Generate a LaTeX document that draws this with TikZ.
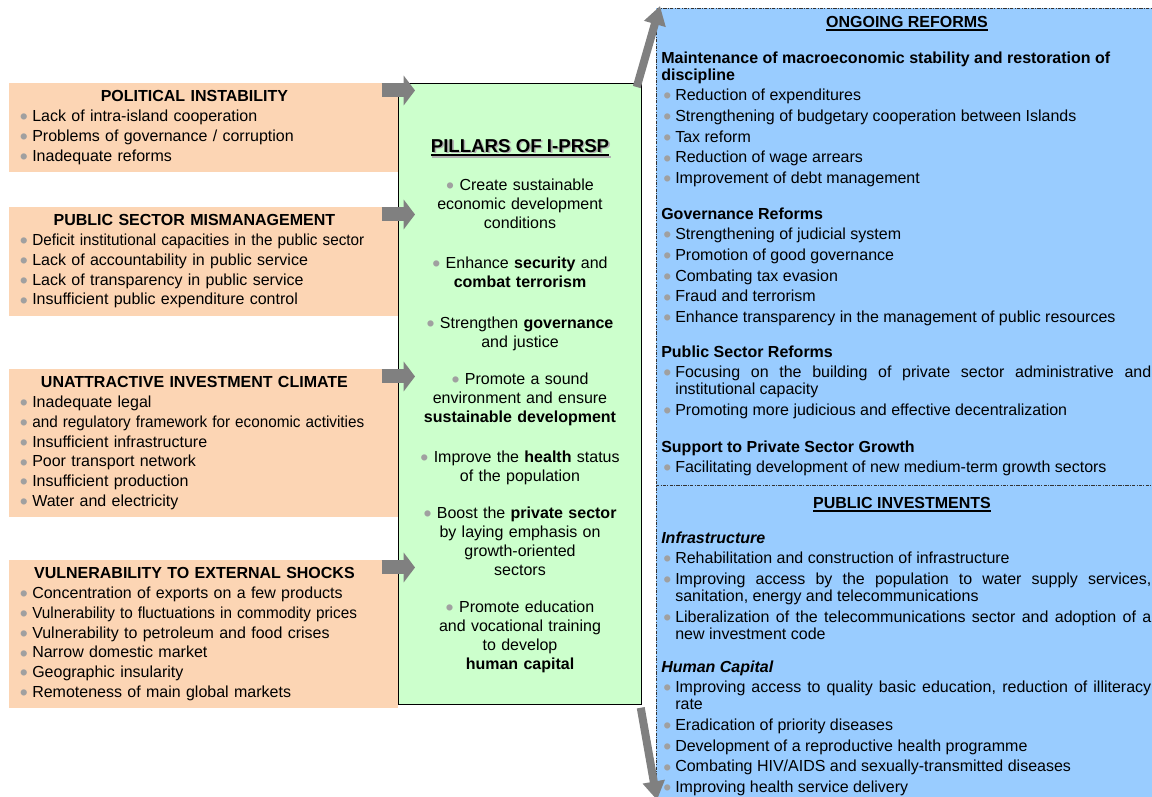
\documentclass[tikz,border=0pt]{standalone}
\usepackage{fontspec}
\setmainfont{Liberation Sans}
\usepackage{xcolor}
\usepackage{graphicx}
\usepackage{tikz}
\usetikzlibrary{arrows.meta}

\definecolor{peach}{HTML}{FCD5B4}
\definecolor{mint}{HTML}{CCFFCC}
\definecolor{skyb}{HTML}{99CCFF}
\definecolor{arrowgrey}{HTML}{808080}
\definecolor{bulgrey}{HTML}{A0A0A0}

\newcommand{\bul}{\textcolor{bulgrey}{\raisebox{-2.4pt}{\scalebox{1.43}{\textbullet}}}}
\newcommand{\chead}[1]{{\centering\bfseries #1\hspace*{14pt}\par}}
\newcommand{\citm}[1]{\par\noindent\makebox[9.75pt][l]{\hspace{0.5pt}\bul}#1}
\newcommand{\ritm}[1]{\par\hangindent=10.5pt\hangafter=1\noindent\makebox[10.5pt][l]{\hspace{1.5pt}\bul}#1}
\newcommand{\ulhead}[1]{\setbox0\hbox{#1}\rlap{\rule[-3pt]{\wd0}{1.4pt}}\box0}
\newcommand{\shadowhead}[1]{\rlap{\color{gray!60}\raisebox{-1.2pt}{\hspace{1.2pt}\ulhead{#1}}}\ulhead{#1}}
\newcommand{\narrow}[1]{\scalebox{0.955}[1]{#1}}

\tikzset{
  panel/.style={anchor=north west, fill=skyb, draw=black!80, line width=0.6pt,
    dash pattern=on 2.5pt off 1pt on 0.6pt off 1pt, minimum width=400pt,
    minimum height=600pt, inner sep=0pt},
  panelline/.style={draw=black!80, line width=0.6pt,
    dash pattern=on 2.5pt off 1pt on 0.6pt off 1pt},
  pillarbox/.style={anchor=north west, fill=mint, draw=black, line width=0.8pt,
    minimum width=182.25pt, minimum height=465.75pt, inner sep=0pt},
  cause/.style={anchor=north west, fill=peach, inner xsep=7.5pt, inner ysep=5.6pt,
    text width=276.75pt, font=\fontsize{12}{14.8}\selectfont},
  pillar/.style={anchor=base, align=center, text width=180pt, inner sep=0pt,
    font=\fontsize{12}{14.25}\selectfont},
  reform/.style={anchor=base west, align=justify, text width=367.5pt, inner sep=0pt,
    font=\fontsize{12}{12.75}\selectfont,
    execute at begin node={\setlength{\parskip}{2.8pt}\hyphenpenalty=10000}},
  headline/.style={anchor=base, inner sep=0pt, font=\fontsize{12}{14}\selectfont\bfseries},
  feed/.style={draw=arrowgrey, line width=10.5pt, -{Triangle[width=22pt,length=8.5pt]}},
  lift/.style={draw=arrowgrey, line width=6pt, -{Triangle[width=16pt,length=14pt]}}
}

\begin{document}
\begin{tikzpicture}[x=0.75pt, y=-0.75pt]
\useasboundingbox (0,0) rectangle (1152,796);
\clip (0,0) rectangle (1152,796);

% reforms and investments panel
\node[panel] (blu) at (656,8) {};
\draw[panelline] (blu.west |- 0,485) -- (blu.east |- 0,485);

% constraints
\node[cause] (pol) at (9,83) {\chead{POLITICAL INSTABILITY}
  \citm{Lack of intra-island cooperation}
  \citm{Problems of governance / corruption}
  \citm{Inadequate reforms}};
\node[cause] (pse) at (9,207) {\chead{PUBLIC SECTOR MISMANAGEMENT}
  \citm{\narrow{Deficit institutional capacities in the public sector}}
  \citm{Lack of accountability in public service}
  \citm{Lack of transparency in public service}
  \citm{Insufficient public expenditure control}};
\node[cause] (inv) at (9,369) {\chead{UNATTRACTIVE INVESTMENT CLIMATE}
  \citm{Inadequate legal}
  \citm{\narrow{and regulatory framework for economic activities}}
  \citm{Insufficient infrastructure}
  \citm{Poor transport network}
  \citm{Insufficient production}
  \citm{Water and electricity}};
\node[cause] (vul) at (9,560) {\chead{VULNERABILITY TO EXTERNAL SHOCKS}
  \citm{Concentration of exports on a few products}
  \citm{\narrow{Vulnerability to fluctuations in commodity prices}}
  \citm{Vulnerability to petroleum and food crises}
  \citm{Narrow domestic market}
  \citm{Geographic insularity}
  \citm{Remoteness of main global markets}};

% pillars
\node[pillarbox] (pil) at (398,83) {};
\node[headline, font=\fontsize{14}{16}\selectfont\bfseries] (pilh) at (520,152)
  {\shadowhead{PILLARS OF I-PRSP}};
\foreach \y/\txt [count=\i] in {
    190/{Create sustainable\\economic development\\conditions},
    268/{Enhance \textbf{security} and\\\textbf{combat terrorism}},
    328/{Strengthen \textbf{governance}\\and justice},
    384/{Promote a sound\\environment and ensure\\\textbf{sustainable development}},
    462/{Improve the \textbf{health} status\\of the population},
    518/{Boost the \textbf{private sector}\\by laying emphasis on\\growth-oriented\\sectors},
    612/{Promote education\\and vocational training\\to develop\\\textbf{human capital}}}
  \node[pillar] (p\i) at (520,\y) {\bul\ \txt};

% ongoing reforms
\node[headline] (ongh) at (907,27) {\ulhead{ONGOING REFORMS}};
\node[reform] (mac) at (661,63) {\textbf{Maintenance of macroeconomic stability and restoration of\\discipline}
  \ritm{Reduction of expenditures}
  \ritm{Strengthening of budgetary cooperation between Islands}
  \ritm{Tax reform}
  \ritm{Reduction of wage arrears}
  \ritm{Improvement of debt management}\par};
\node[reform] (gov) at (661,219) {\textbf{Governance Reforms}
  \ritm{Strengthening of judicial system}
  \ritm{Promotion of good governance}
  \ritm{Combating tax evasion}
  \ritm{Fraud and terrorism}
  \ritm{Enhance transparency in the management of public resources}\par};
\node[reform] (pub) at (661,357) {\textbf{Public Sector Reforms}
  \ritm{Focusing on the building of private sector administrative and\linebreak institutional capacity}
  \ritm{Promoting more judicious and effective decentralization}\par};
\node[reform] (prv) at (661,452) {\textbf{Support to Private Sector Growth}
  \ritm{Facilitating development of new medium-term growth sectors}\par};

% public investments
\node[headline] (invh) at (902,508) {\ulhead{PUBLIC INVESTMENTS}};
\node[reform] (inf) at (661,543) {\textbf{\textit{Infrastructure}}
  \ritm{Rehabilitation and construction of infrastructure}
  \ritm{Improving access by the population to water supply services,\linebreak sanitation, energy and telecommunications}
  \ritm{Liberalization of the telecommunications sector and adoption of a\linebreak new investment code}\par};
\node[reform] (hum) at (661,672) {\textbf{\textit{Human Capital}}
  \ritm{Improving access to quality basic education, reduction of illiteracy\linebreak rate}
  \ritm{Eradication of priority diseases}
  \ritm{Development of a reproductive health programme}
  \ritm{Combating HIV/AIDS and sexually-transmitted diseases}
  \ritm{Improving health service delivery}\par};

% arrows
\foreach \c in {pol,pse,inv,vul} {
  \coordinate (\c-in) at ([xshift=-12.75pt,yshift=-5.6pt]\c.north east);
  \draw[feed, shorten >=-12.75pt] (\c-in) -- (\c-in -| pil.west);
}
\draw[lift] ([xshift=-4pt,yshift=-3pt]pil.north east) -- ([xshift=3pt,yshift=1.5pt]blu.north west);
\coordinate (dn) at (657,800);
\draw[lift] ([xshift=-1pt,yshift=-2pt]pil.south east) -- (dn);
\end{tikzpicture}
\end{document}
